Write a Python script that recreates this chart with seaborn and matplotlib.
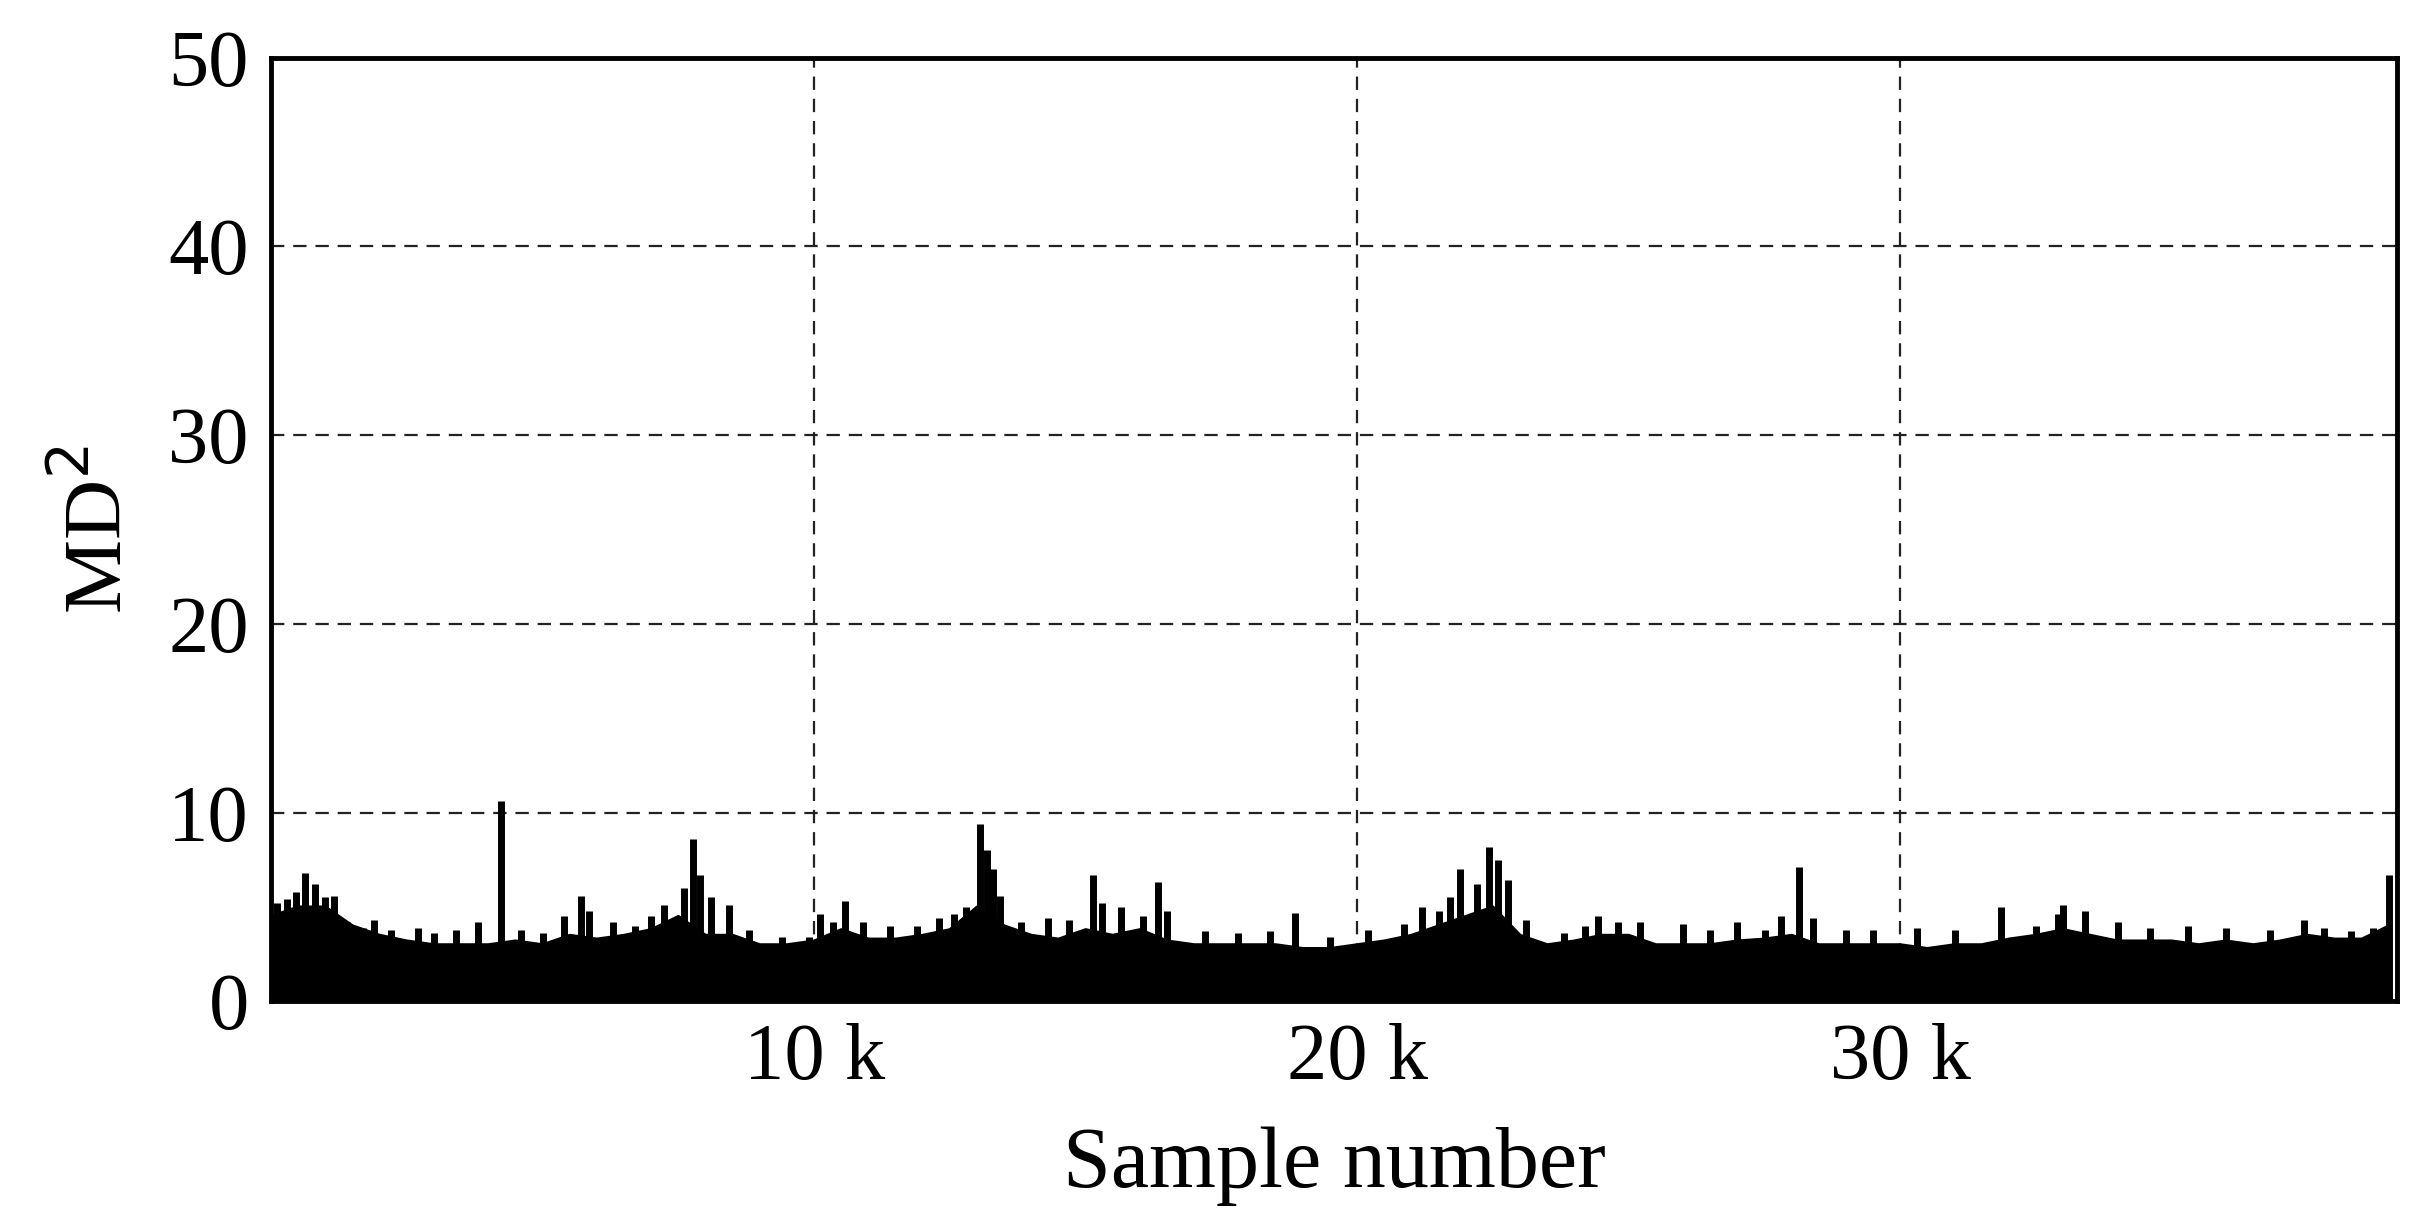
import numpy as np
import matplotlib
matplotlib.use("Agg")
import matplotlib.pyplot as plt
import seaborn as sns
import pandas as pd

base_x = list(range(0, 39001, 500))
base_y = [4.5,5,5,4,3.5,3.2,3,3,3,3.2,3,3.5,3.3,3.5,3.8,4.5,3.5,3.5,3,3,3.2,3.8,3.3,3.3,3.5,3.8,5,4,3.5,3.3,
          3.8,3.5,3.8,3.2,3,3,3,3,2.8,2.8,3,3.2,3.5,4,4.5,5,3.5,3,3.2,3.5,3.5,3,3,3,3.2,3.3,3.5,3,3,3,
          3,2.8,3,3,3.3,3.5,3.8,3.5,3.2,3.2,3.2,3,3.2,3,3.2,3.5,3.3,3.3,4]
peak_x = [100,300,450,630,800,1000,1150,1400,1700,1900,2200,2700,3000,3400,3800,4230,4600,5000,5400,5700,5850,
          6300,6700,7000,7230,7600,7770,7900,8100,8430,8800,9400,9900,10100,10350,10570,10900,11400,11900,12300,
          12570,12800,13060,13180,13300,13430,13800,14300,14700,15140,15300,15650,16050,16340,16500,17200,17800,
          18400,18860,19500,20200,20860,21200,21500,21700,21900,22200,22430,22600,22770,23100,23800,24200,24430,
          24800,25200,26000,26500,27000,27500,27800,28140,28400,29000,29500,30300,31000,31860,32500,32900,33000,
          33400,34000,34600,35300,36000,36800,37430,37800,38300,38700,39000]
peak_y = [5.2,5.4,5.8,6.8,6.2,5.5,5.6,4.2,3.9,4.3,3.8,3.9,3.6,3.8,4.2,10.6,3.8,3.6,4.5,5.6,4.8,
          4.2,4.0,4.5,5.1,6.0,8.6,6.7,5.5,5.1,3.8,3.4,3.4,4.6,4.2,5.3,4.2,4.0,4.0,4.4,
          4.6,5.0,9.4,8.0,7.0,5.6,4.2,4.4,4.3,6.7,5.2,5.0,4.5,6.3,4.8,3.7,3.6,
          3.7,4.7,3.4,3.8,4.1,5.0,4.8,5.5,7.0,6.2,8.2,7.5,6.4,4.3,3.6,4.0,4.5,
          4.2,4.2,4.1,3.8,4.2,3.8,4.5,7.1,4.4,3.8,3.8,3.9,3.8,5.0,4.0,4.6,5.1,
          4.8,4.2,3.9,4.0,3.9,3.8,4.3,3.9,3.7,3.9,6.7]

sns.set_theme(style="white")
plt.rcParams['font.family'] = ['Liberation Serif', 'DejaVu Serif']
plt.rcParams['text.color'] = 'black'
plt.rcParams['axes.labelcolor'] = 'black'
plt.rcParams['xtick.color'] = 'black'
plt.rcParams['ytick.color'] = 'black'

fig = plt.figure(figsize=(24.21, 12.30), dpi=100)
ax = fig.add_axes([0.112, 0.186, 0.878, 0.767])
df = pd.DataFrame({"x": base_x, "y": base_y})
ax.fill_between(df["x"], 0, df["y"], color="black", linewidth=0)
sns.lineplot(data=df, x="x", y="y", color="black", linewidth=2, ax=ax)
ax.vlines(peak_x, 0, peak_y, color="black", linewidth=5)

ax.set_xlim(0, 39143)
ax.set_ylim(0, 50)
ax.set_xticks([10000, 20000, 30000])
ax.set_xticklabels(["10 k", "20 k", "30 k"])
ax.set_yticks([0, 10, 20, 30, 40, 50])
ax.tick_params(labelsize=58, length=0, pad=16)
ax.grid(True, color="#222222", linestyle=(0, (6, 4)), linewidth=1.6)
for s in ax.spines.values():
    s.set_color("black")
    s.set_linewidth(3.5)
ax.set_xlabel("Sample number", fontsize=62, labelpad=22)
ax.set_ylabel("MD$^2$", fontsize=60, labelpad=20)
fig.savefig("out.png", dpi=100)
